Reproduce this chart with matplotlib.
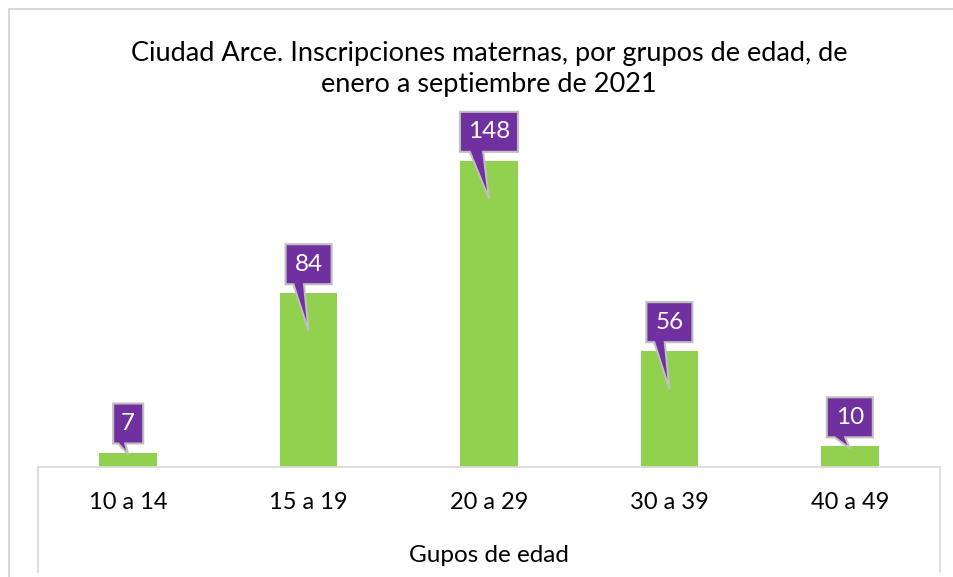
import matplotlib
matplotlib.use("Agg")
import matplotlib.pyplot as plt
import matplotlib.transforms as mtransforms
from matplotlib.patches import Polygon, Rectangle
from matplotlib.lines import Line2D

# data
grupos = ["10 a 14", "15 a 19", "20 a 29", "30 a 39", "40 a 49"]
inscripciones = [7, 84, 148, 56, 10]
titulo = "Ciudad Arce. Inscripciones maternas, por grupos de edad, de\nenero a septiembre de 2021"
eje_x = "Gupos de edad"

plt.rcParams['font.family'] = ['Lato', 'DejaVu Sans']

W, H = 954, 577
fig = plt.figure(figsize=(W/100, H/100), dpi=100)
fig.patch.set_facecolor('white')

# plot area in pixels
x0, x1 = 38, 940
ybase, ytop = 467, 136
ax = fig.add_axes([x0/W, (H-ybase)/H, (x1-x0)/W, (ybase-ytop)/H])
ax.bar(range(len(grupos)), inscripciones, width=0.32, color='#92D050', zorder=2)
ax.set_xlim(-0.5, len(grupos)-0.5)
ax.set_ylim(0, 160)
ax.set_yticks([])
ax.set_xticks(range(len(grupos)))
ax.set_xticklabels(grupos, fontsize=17)
ax.tick_params(axis='x', length=0, pad=18)
for s in ['top', 'left', 'right']:
    ax.spines[s].set_visible(False)
ax.spines['bottom'].set_color('#D9D9D9')
ax.spines['bottom'].set_linewidth(1.2)

ident = mtransforms.IdentityTransform()

# lines framing the category axis
for xp in (x0, x1):
    fig.add_artist(Line2D([xp, xp], [H-ybase, H-572], transform=ident,
                          color='#D9D9D9', lw=1.2))

# outer chart border
fig.add_artist(Rectangle((9, -20), 960, H-9+20, transform=ident,
                         fill=False, edgecolor='#D9D9D9', lw=1.5))

# callouts
for i, v in enumerate(inscripciones):
    cx, cy = ax.transData.transform((i, v))
    txt = str(v)
    hw = {1: 15, 2: 23, 3: 29}[len(txt)]
    hpx = cy - (H - ybase)
    depth = 38 if hpx > 80 else 2
    bl, br = -0.66*hw, -0.2*hw
    verts = [(-hw, 9), (-hw, 49), (hw, 49), (hw, 9), (br, 9),
             (0, -depth), (bl, 9)]
    verts = [(cx+a, cy+b) for a, b in verts]
    fig.add_artist(Polygon(verts, closed=True, transform=ident,
                           facecolor='#7030A0', edgecolor='#BFBFBF',
                           lw=1.5, zorder=5))
    fig.text(cx/W, (cy+29)/H, txt, color='white', fontsize=17.5,
             ha='center', va='center', zorder=6)

fig.text(489/W, (H-69)/H, titulo, ha='center', va='center',
         fontsize=19.5, linespacing=1.32)
fig.text(489/W, (H-555)/H, eje_x, ha='center', va='center', fontsize=17.5)

fig.savefig("out.png", dpi=100)
